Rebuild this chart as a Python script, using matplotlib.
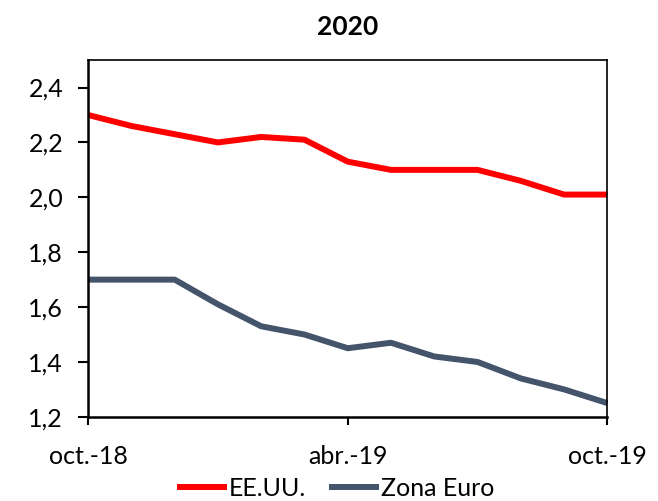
import matplotlib.pyplot as plt

# Data
meses = ['oct.-18', 'nov.-18', 'dic.-18', 'ene.-19', 'feb.-19', 'mar.-19', 'abr.-19',
         'may.-19', 'jun.-19', 'jul.-19', 'ago.-19', 'sep.-19', 'oct.-19']
eeuu = [2.30, 2.26, 2.23, 2.20, 2.22, 2.21, 2.13, 2.10, 2.10, 2.10, 2.06, 2.01, 2.01]
zona_euro = [1.70, 1.70, 1.70, 1.61, 1.53, 1.50, 1.45, 1.47, 1.42, 1.40, 1.34, 1.30, 1.25]

plt.rcParams['font.family'] = ['Lato', 'DejaVu Sans']

fig = plt.figure(figsize=(6.58, 5.01), dpi=100)
ax = fig.add_axes([0.134, 0.168, 0.789, 0.712])

x = list(range(len(meses)))
ax.plot(x, eeuu, color='#FF0000', lw=4.3, label='EE.UU.', clip_on=False, solid_capstyle='butt')
ax.plot(x, zona_euro, color='#44546A', lw=4.3, label='Zona Euro', clip_on=False, solid_capstyle='butt')

ax.set_xlim(0, len(meses) - 1)
ax.set_ylim(1.2, 2.5)
ax.set_yticks([1.2, 1.4, 1.6, 1.8, 2.0, 2.2, 2.4])
ax.set_yticklabels([f'{v:.1f}'.replace('.', ',') for v in [1.2, 1.4, 1.6, 1.8, 2.0, 2.2, 2.4]])
ax.set_xticks([0, 6, 12])
ax.set_xticklabels([meses[0], meses[6], meses[12]])

ax.tick_params(axis='both', labelsize=18, length=7, width=1.5, direction='out')
ax.tick_params(axis='x', pad=14, length=6)
ax.tick_params(axis='y', pad=11)
for s in ['left', 'bottom']:
    ax.spines[s].set_linewidth(1.8)
for s in ['top', 'right']:
    ax.spines[s].set_linewidth(1.2)

ax.set_title('2020', fontsize=19, fontweight='bold', pad=18)

fig.legend(loc='lower center', bbox_to_anchor=(0.51, -0.042), ncol=2, frameon=False,
           fontsize=18, handlelength=2.0, handletextpad=0.1, columnspacing=0.9)

fig.savefig('out.png', dpi=100)
